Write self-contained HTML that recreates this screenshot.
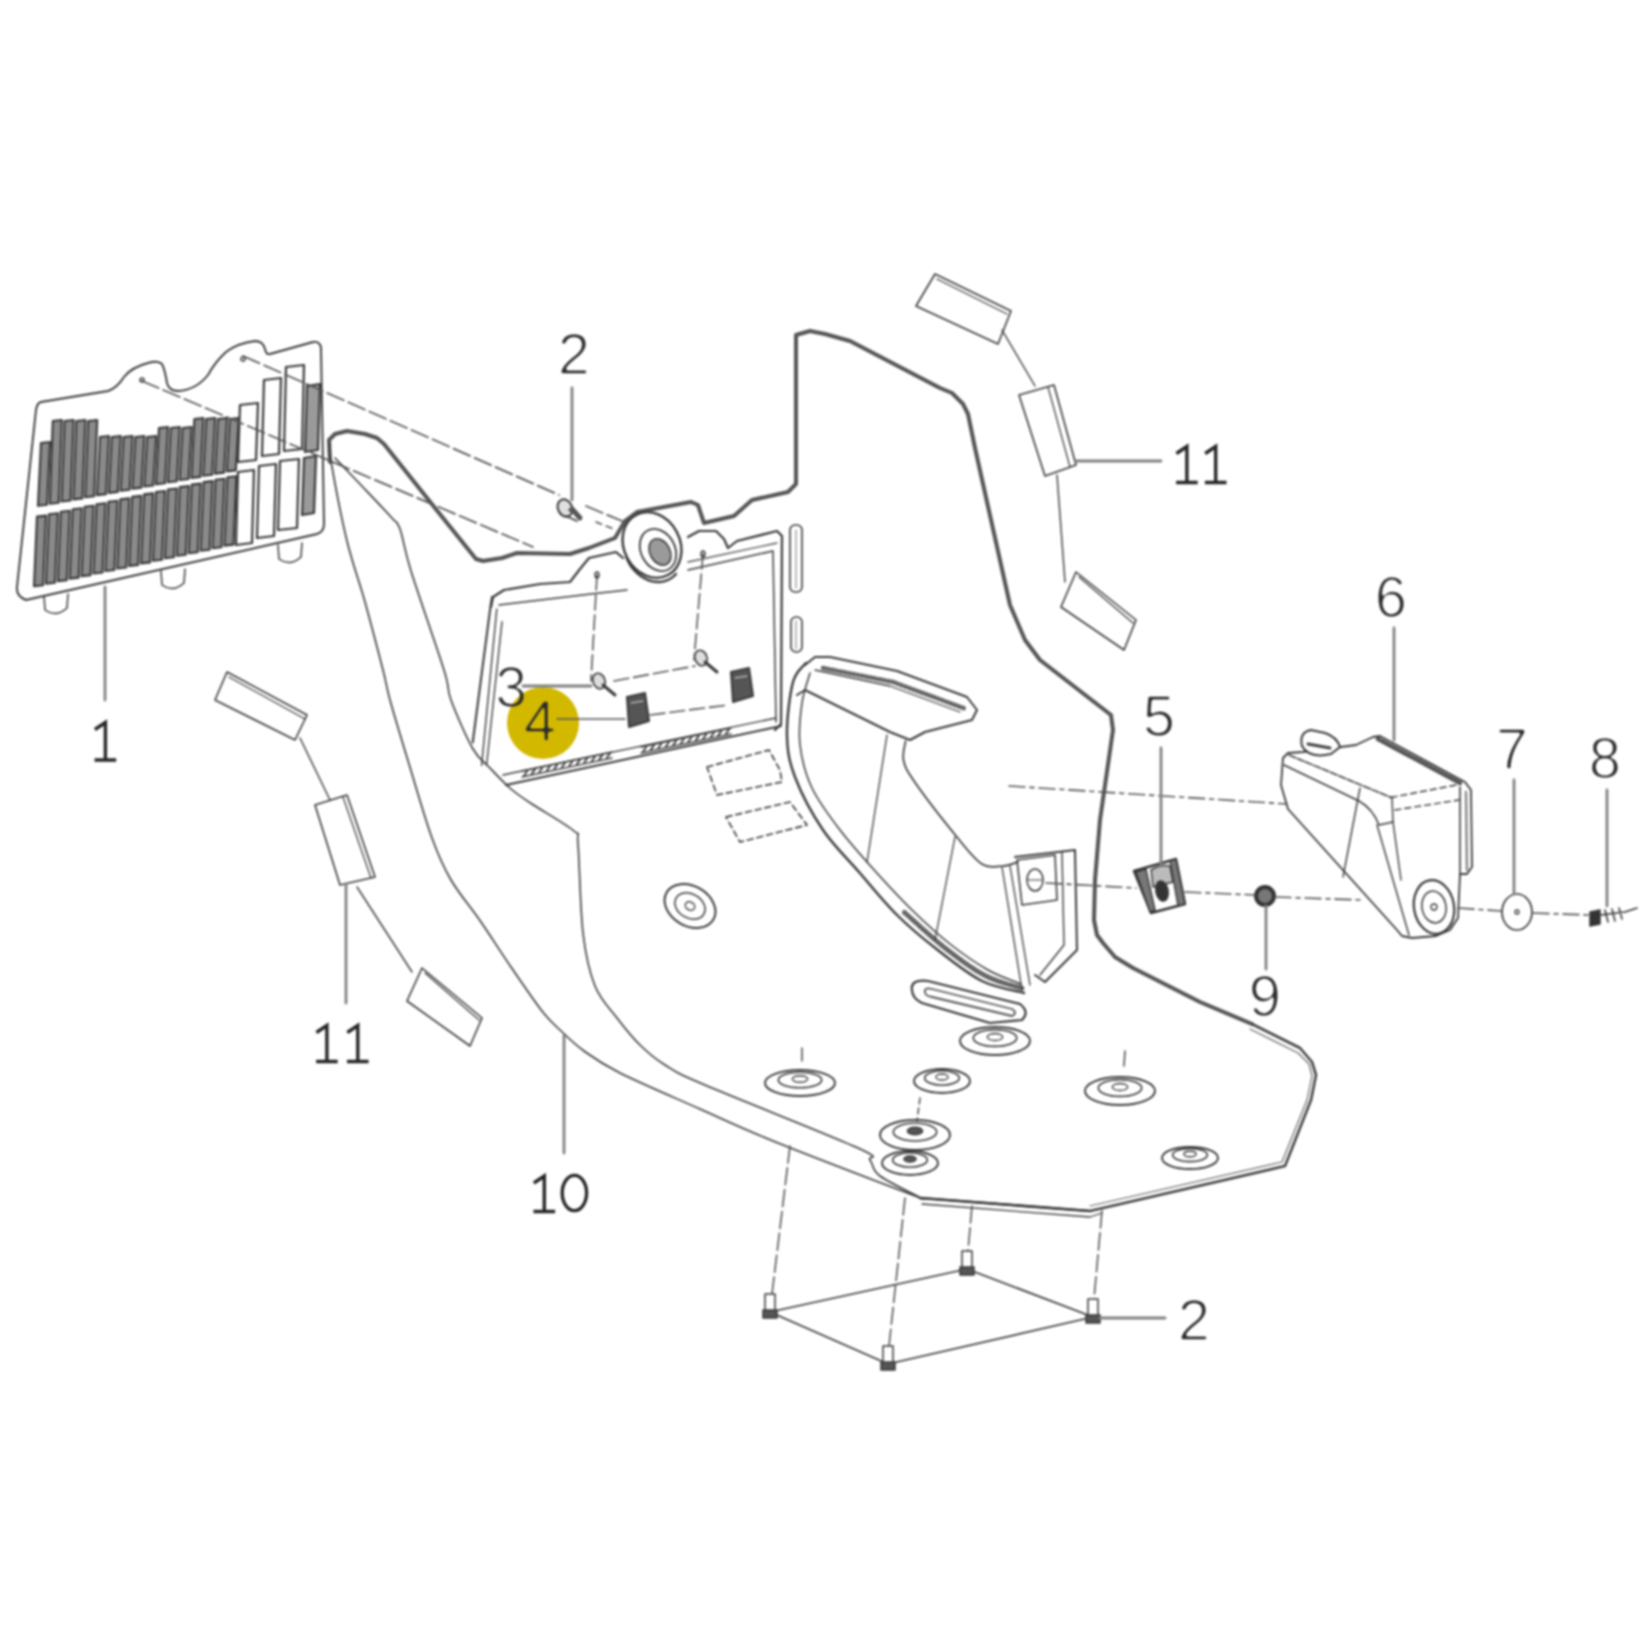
<!DOCTYPE html>
<html><head><meta charset="utf-8"><style>
html,body{margin:0;padding:0;background:#ffffff;width:1652px;height:1652px;overflow:hidden}
svg{display:block;filter:blur(1px)}
</style></head><body>
<svg width="1652" height="1652" viewBox="0 0 1652 1652">
<defs><filter id="thin" x="-20%" y="-20%" width="140%" height="140%"><feGaussianBlur stdDeviation="0.9"/><feComponentTransfer><feFuncA type="linear" slope="3" intercept="-1.75"/></feComponentTransfer></filter></defs>
<rect width="1652" height="1652" fill="#ffffff"/>
<path d="M41,402 Q37,403 36,410 L17,587 Q16,596 26,600 L317,534 Q324,532 324,524 L321,348 Q320,341 313,342 L270,354 Q266,355 265,349 Q263,341 255,341 Q238,343 226,352 Q215,362 208,375 Q196,390 178,391 Q169,391 167,383 Q165,370 162,364 Q158,360 148,363 Q132,367 124,377 Q117,388 108,391 Z" fill="none" stroke="#3a3a3a" stroke-width="1.9" stroke-linejoin="round" stroke-linecap="round"/>
<path d="M44,596 L45,610 Q56,618 67,608 L68,594" fill="none" stroke="#3a3a3a" stroke-width="1.5" stroke-linejoin="round" stroke-linecap="round"/>
<path d="M161,571 L162,585 Q173,593 184,583 L185,569" fill="none" stroke="#3a3a3a" stroke-width="1.5" stroke-linejoin="round" stroke-linecap="round"/>
<path d="M278,545 L279,559 Q290,567 301,557 L302,543" fill="none" stroke="#3a3a3a" stroke-width="1.5" stroke-linejoin="round" stroke-linecap="round"/>
<path d="M41.0,443.0 L50.0,442.0 L47.0,504.8 L38.0,505.8 Z" fill="#8a8a8a" stroke="#3a3a3a" stroke-width="2.1" stroke-linejoin="round" stroke-linecap="round" />
<path d="M52.8,421.0 L61.8,420.0 L58.8,502.7 L49.8,503.7 Z" fill="#8a8a8a" stroke="#3a3a3a" stroke-width="2.1" stroke-linejoin="round" stroke-linecap="round" />
<path d="M64.6,421.0 L73.6,420.0 L70.6,500.5 L61.6,501.5 Z" fill="#8a8a8a" stroke="#3a3a3a" stroke-width="2.1" stroke-linejoin="round" stroke-linecap="round" />
<path d="M76.4,421.0 L85.4,420.0 L82.4,498.4 L73.4,499.4 Z" fill="#8a8a8a" stroke="#3a3a3a" stroke-width="2.1" stroke-linejoin="round" stroke-linecap="round" />
<path d="M88.2,421.0 L97.2,420.0 L94.2,496.2 L85.2,497.2 Z" fill="#8a8a8a" stroke="#3a3a3a" stroke-width="2.1" stroke-linejoin="round" stroke-linecap="round" />
<path d="M100.0,437.0 L109.0,436.0 L106.0,494.1 L97.0,495.1 Z" fill="#8a8a8a" stroke="#3a3a3a" stroke-width="2.1" stroke-linejoin="round" stroke-linecap="round" />
<path d="M111.8,437.0 L120.8,436.0 L117.8,491.9 L108.8,492.9 Z" fill="#8a8a8a" stroke="#3a3a3a" stroke-width="2.1" stroke-linejoin="round" stroke-linecap="round" />
<path d="M123.6,437.0 L132.6,436.0 L129.6,489.8 L120.6,490.8 Z" fill="#8a8a8a" stroke="#3a3a3a" stroke-width="2.1" stroke-linejoin="round" stroke-linecap="round" />
<path d="M135.4,437.0 L144.4,436.0 L141.4,487.6 L132.4,488.6 Z" fill="#8a8a8a" stroke="#3a3a3a" stroke-width="2.1" stroke-linejoin="round" stroke-linecap="round" />
<path d="M147.2,437.0 L156.2,436.0 L153.2,485.5 L144.2,486.5 Z" fill="#8a8a8a" stroke="#3a3a3a" stroke-width="2.1" stroke-linejoin="round" stroke-linecap="round" />
<path d="M159.0,428.0 L168.0,427.0 L165.0,483.3 L156.0,484.3 Z" fill="#8a8a8a" stroke="#3a3a3a" stroke-width="2.1" stroke-linejoin="round" stroke-linecap="round" />
<path d="M170.8,428.0 L179.8,427.0 L176.8,481.2 L167.8,482.2 Z" fill="#8a8a8a" stroke="#3a3a3a" stroke-width="2.1" stroke-linejoin="round" stroke-linecap="round" />
<path d="M182.6,428.0 L191.6,427.0 L188.6,479.0 L179.6,480.0 Z" fill="#8a8a8a" stroke="#3a3a3a" stroke-width="2.1" stroke-linejoin="round" stroke-linecap="round" />
<path d="M194.4,419.0 L203.4,418.0 L200.4,476.9 L191.4,477.9 Z" fill="#8a8a8a" stroke="#3a3a3a" stroke-width="2.1" stroke-linejoin="round" stroke-linecap="round" />
<path d="M206.2,419.0 L215.2,418.0 L212.2,474.7 L203.2,475.7 Z" fill="#8a8a8a" stroke="#3a3a3a" stroke-width="2.1" stroke-linejoin="round" stroke-linecap="round" />
<path d="M218.0,419.0 L227.0,418.0 L224.0,472.6 L215.0,473.6 Z" fill="#8a8a8a" stroke="#3a3a3a" stroke-width="2.1" stroke-linejoin="round" stroke-linecap="round" />
<path d="M229.8,419.0 L238.8,418.0 L235.8,470.4 L226.8,471.4 Z" fill="#8a8a8a" stroke="#3a3a3a" stroke-width="2.1" stroke-linejoin="round" stroke-linecap="round" />
<path d="M240.0,405.0 L258.0,403.0 L256.0,460.0 L238.0,462.0 Z" fill="#ffffff" stroke="#3a3a3a" stroke-width="2.2" stroke-linejoin="round" stroke-linecap="round" />
<path d="M264.0,380.0 L281.0,378.0 L279.0,454.0 L262.0,456.0 Z" fill="#ffffff" stroke="#3a3a3a" stroke-width="2.2" stroke-linejoin="round" stroke-linecap="round" />
<path d="M286.0,367.0 L304.0,365.0 L302.0,449.0 L284.0,451.0 Z" fill="#ffffff" stroke="#3a3a3a" stroke-width="2.2" stroke-linejoin="round" stroke-linecap="round" />
<path d="M307.0,386.0 L320.0,384.0 L318.0,450.0 L305.0,452.0 Z" fill="#9a9a9a" stroke="#3a3a3a" stroke-width="2.2" stroke-linejoin="round" stroke-linecap="round" />
<path d="M37.0,516.6 L46.0,515.6 L43.0,585.2 L34.0,586.2 Z" fill="#8a8a8a" stroke="#3a3a3a" stroke-width="2.1" stroke-linejoin="round" stroke-linecap="round" />
<path d="M48.9,514.2 L57.9,513.2 L54.9,582.7 L45.9,583.7 Z" fill="#8a8a8a" stroke="#3a3a3a" stroke-width="2.1" stroke-linejoin="round" stroke-linecap="round" />
<path d="M60.8,511.7 L69.8,510.7 L66.8,580.1 L57.8,581.1 Z" fill="#8a8a8a" stroke="#3a3a3a" stroke-width="2.1" stroke-linejoin="round" stroke-linecap="round" />
<path d="M72.7,509.2 L81.7,508.2 L78.7,577.6 L69.7,578.6 Z" fill="#8a8a8a" stroke="#3a3a3a" stroke-width="2.1" stroke-linejoin="round" stroke-linecap="round" />
<path d="M84.6,506.8 L93.6,505.8 L90.6,575.1 L81.6,576.1 Z" fill="#8a8a8a" stroke="#3a3a3a" stroke-width="2.1" stroke-linejoin="round" stroke-linecap="round" />
<path d="M96.5,504.3 L105.5,503.3 L102.5,572.5 L93.5,573.5 Z" fill="#8a8a8a" stroke="#3a3a3a" stroke-width="2.1" stroke-linejoin="round" stroke-linecap="round" />
<path d="M108.4,501.8 L117.4,500.8 L114.4,570.0 L105.4,571.0 Z" fill="#8a8a8a" stroke="#3a3a3a" stroke-width="2.1" stroke-linejoin="round" stroke-linecap="round" />
<path d="M120.3,499.4 L129.3,498.4 L126.3,567.5 L117.3,568.5 Z" fill="#8a8a8a" stroke="#3a3a3a" stroke-width="2.1" stroke-linejoin="round" stroke-linecap="round" />
<path d="M132.2,496.9 L141.2,495.9 L138.2,564.9 L129.2,565.9 Z" fill="#8a8a8a" stroke="#3a3a3a" stroke-width="2.1" stroke-linejoin="round" stroke-linecap="round" />
<path d="M144.1,494.4 L153.1,493.4 L150.1,562.4 L141.1,563.4 Z" fill="#8a8a8a" stroke="#3a3a3a" stroke-width="2.1" stroke-linejoin="round" stroke-linecap="round" />
<path d="M156.0,492.0 L165.0,491.0 L162.0,559.8 L153.0,560.8 Z" fill="#8a8a8a" stroke="#3a3a3a" stroke-width="2.1" stroke-linejoin="round" stroke-linecap="round" />
<path d="M167.9,489.5 L176.9,488.5 L173.9,557.3 L164.9,558.3 Z" fill="#8a8a8a" stroke="#3a3a3a" stroke-width="2.1" stroke-linejoin="round" stroke-linecap="round" />
<path d="M179.8,487.1 L188.8,486.1 L185.8,554.8 L176.8,555.8 Z" fill="#8a8a8a" stroke="#3a3a3a" stroke-width="2.1" stroke-linejoin="round" stroke-linecap="round" />
<path d="M191.7,484.6 L200.7,483.6 L197.7,552.2 L188.7,553.2 Z" fill="#8a8a8a" stroke="#3a3a3a" stroke-width="2.1" stroke-linejoin="round" stroke-linecap="round" />
<path d="M203.6,482.1 L212.6,481.1 L209.6,549.7 L200.6,550.7 Z" fill="#8a8a8a" stroke="#3a3a3a" stroke-width="2.1" stroke-linejoin="round" stroke-linecap="round" />
<path d="M215.5,479.7 L224.5,478.7 L221.5,547.2 L212.5,548.2 Z" fill="#8a8a8a" stroke="#3a3a3a" stroke-width="2.1" stroke-linejoin="round" stroke-linecap="round" />
<path d="M227.4,477.2 L236.4,476.2 L233.4,544.6 L224.4,545.6 Z" fill="#8a8a8a" stroke="#3a3a3a" stroke-width="2.1" stroke-linejoin="round" stroke-linecap="round" />
<path d="M238.0,472.0 L254.0,470.0 L252.0,543.0 L236.0,545.0 Z" fill="#ffffff" stroke="#3a3a3a" stroke-width="2.2" stroke-linejoin="round" stroke-linecap="round" />
<path d="M259.0,466.0 L276.0,464.0 L274.0,536.0 L257.0,538.0 Z" fill="#ffffff" stroke="#3a3a3a" stroke-width="2.2" stroke-linejoin="round" stroke-linecap="round" />
<path d="M280.0,461.0 L299.0,459.0 L297.0,528.0 L278.0,530.0 Z" fill="#ffffff" stroke="#3a3a3a" stroke-width="2.2" stroke-linejoin="round" stroke-linecap="round" />
<path d="M304.0,458.0 L316.0,456.0 L314.0,513.0 L302.0,515.0 Z" fill="#9a9a9a" stroke="#3a3a3a" stroke-width="2.2" stroke-linejoin="round" stroke-linecap="round" />
<ellipse cx="142" cy="380" rx="2" ry="2" fill="none" stroke="#3a3a3a" stroke-width="1.5"/>
<ellipse cx="243" cy="359" rx="2" ry="2" fill="none" stroke="#3a3a3a" stroke-width="1.5"/>
<path d="M105.0,587.0 L105.0,700.0" fill="none" stroke="#808080" stroke-width="2.8" stroke-linejoin="round" stroke-linecap="round" />
<path d="M94.9,729.5 L105.4,722.5 L105.4,760 M94.60000000000001,760 L116.2,760" fill="none" stroke="#262626" stroke-width="3.4" stroke-linejoin="miter"/>
<path d="M243.0,356.0 L559.0,495.0" fill="none" stroke="#555555" stroke-width="1.7" stroke-dasharray="18 5" stroke-linejoin="round" stroke-linecap="round" />
<path d="M586.0,506.0 L622.0,521.0" fill="none" stroke="#555555" stroke-width="1.7" stroke-dasharray="18 5" stroke-linejoin="round" stroke-linecap="round" />
<path d="M596.0,522.0 L614.0,529.0" fill="none" stroke="#555555" stroke-width="1.6" stroke-dasharray="6 5" stroke-linejoin="round" stroke-linecap="round" />
<path d="M142.0,381.0 L533.0,547.0" fill="none" stroke="#555555" stroke-width="1.7" stroke-dasharray="18 5" stroke-linejoin="round" stroke-linecap="round" />
<ellipse cx="565" cy="508" rx="7" ry="9" fill="#e0e0e0" stroke="#3a3a3a" stroke-width="2.0" transform="rotate(-25 565 508)"/>
<path d="M569,510 L580,516 M566,516 L577,521" fill="none" stroke="#3a3a3a" stroke-width="1.8" stroke-linejoin="round" stroke-linecap="round"/>
<path d="M572.0,509.0 L580.0,518.0" fill="none" stroke="#555555" stroke-width="5" stroke-linejoin="round" stroke-linecap="round" />
<path d="M572.0,388.0 L572.0,500.0" fill="none" stroke="#808080" stroke-width="2.8" stroke-linejoin="round" stroke-linecap="round" />
<text x="574" y="374" font-size="58" fill="#2a2a2a" text-anchor="middle" font-family="&apos;Liberation Sans&apos;, sans-serif" filter="url(#thin)">2</text>
<path d="M330.0,462.0 L329.0,440.0 L335.0,434.0 L347.0,431.0 L365.0,434.0 L377.0,438.0 L384.0,444.0 L435.0,508.0 L476.0,559.0 L483.0,561.0 L502.0,558.0 L517.0,553.0 L570.0,554.0 L589.0,548.0 L615.0,538.0 L625.0,521.0 L637.0,512.0 L691.0,502.0 L698.0,505.0 L704.0,523.0 L734.0,516.0 L752.0,500.0 L788.0,492.0 L796.0,484.0 L796.0,335.0 L810.0,331.0 L825.0,334.0 L850.0,341.0 L940.0,388.0 L952.0,393.0 L963.0,404.0 L968.0,414.0 L975.0,448.0 L1010.0,605.0 L1025.0,640.0 L1040.0,660.0 L1111.0,715.0 L1113.0,730.0 L1100.0,820.0 L1095.0,880.0 L1094.0,920.0 L1097.0,935.0 L1103.0,943.0 L1115.0,957.0 L1133.0,968.0 L1200.0,1002.0 L1252.0,1024.0" fill="none" stroke="#555555" stroke-width="4.0" stroke-linejoin="round" stroke-linecap="round" />
<path d="M1252.0,1024.0 L1300.0,1048.0 L1312.0,1062.0 L1316.0,1075.0 L1311.0,1100.0 L1285.0,1166.0 L1090.0,1211.0 L920.0,1198.0" fill="none" stroke="#444444" stroke-width="2.6" stroke-linejoin="round" stroke-linecap="round" />
<path d="M1250.0,1029.0 L1298.0,1053.0 L1309.0,1064.0 L1312.0,1076.0 L1307.0,1100.0 L1282.0,1162.0 L1090.0,1206.0" fill="none" stroke="#666666" stroke-width="1.2" stroke-linejoin="round" stroke-linecap="round" />
<path d="M330.0,443.0 C330.2,446.0 328.2,444.7 331.0,461.0 C333.8,477.3 341.3,517.5 347.0,541.0 C352.7,564.5 359.0,580.5 365.0,602.0 C371.0,623.5 378.8,653.7 383.0,670.0 C387.2,686.3 385.7,684.3 390.0,700.0 C394.3,715.7 402.0,741.0 409.0,764.0 C416.0,787.0 425.0,818.7 432.0,838.0 C439.0,857.3 442.8,866.0 451.0,880.0 C459.2,894.0 471.0,907.5 481.0,922.0 C491.0,936.5 500.8,952.2 511.0,967.0 C521.2,981.8 533.8,1000.5 542.0,1011.0 C550.2,1021.5 553.0,1023.3 560.0,1030.0 C567.0,1036.7 574.0,1043.8 584.0,1051.0 C594.0,1058.2 600.7,1063.3 620.0,1073.0 C639.3,1082.7 673.7,1097.3 700.0,1109.0 C726.3,1120.7 740.8,1128.0 778.0,1143.0 C815.2,1158.0 898.8,1189.7 923.0,1199.0" fill="none" stroke="#3a3a3a" stroke-width="1.6" stroke-linejoin="round" stroke-linecap="round"/>
<path d="M335.0,458.0 C339.0,462.2 349.7,473.2 359.0,483.0 C368.3,492.8 384.2,509.3 391.0,517.0 C397.8,524.7 396.7,520.0 400.0,529.0 C403.3,538.0 403.7,547.5 411.0,571.0 C418.3,594.5 437.3,648.5 444.0,670.0 C450.7,691.5 446.2,686.8 451.0,700.0 C455.8,713.2 466.5,737.7 473.0,749.0 C479.5,760.3 483.7,761.3 490.0,768.0 C496.3,774.7 504.0,783.0 511.0,789.0 C518.0,795.0 521.5,797.0 532.0,804.0 C542.5,811.0 566.3,824.3 574.0,831.0 C581.7,837.7 576.5,827.0 578.0,844.0 C579.5,861.0 580.2,909.3 583.0,933.0 C585.8,956.7 589.3,971.8 595.0,986.0 C600.7,1000.2 609.5,1008.2 617.0,1018.0 C624.5,1027.8 632.0,1037.2 640.0,1045.0 C648.0,1052.8 654.2,1058.3 665.0,1065.0 C675.8,1071.7 672.8,1071.2 705.0,1085.0 C737.2,1098.8 830.5,1135.5 858.0,1148.0 C885.5,1160.5 866.3,1155.3 870.0,1160.0 C873.7,1164.7 871.2,1169.5 880.0,1176.0 C888.8,1182.5 915.8,1195.2 923.0,1199.0" fill="none" stroke="#3a3a3a" stroke-width="1.6" stroke-linejoin="round" stroke-linecap="round"/>
<path d="M920.0,1198.0 L1090.0,1211.0" fill="none" stroke="#3a3a3a" stroke-width="2.2" stroke-linejoin="round" stroke-linecap="round" />
<path d="M922.0,1204.0 L1090.0,1217.0 L1102.0,1213.0" fill="none" stroke="#3a3a3a" stroke-width="1.3" stroke-linejoin="round" stroke-linecap="round" />
<path d="M491.0,607.0 L493.0,597.0 L504.0,590.0 L540.0,584.0 L570.0,582.0 L580.0,569.0 L589.0,558.0 L616.0,552.0 L623.0,558.0" fill="none" stroke="#3a3a3a" stroke-width="2.2" stroke-linejoin="round" stroke-linecap="round" />
<path d="M688.0,537.0 L699.0,531.0 L716.0,531.0 L724.0,539.0 L728.0,548.0 L737.0,541.0 L777.0,531.0 L782.0,536.0 L781.0,724.0 L775.0,730.0" fill="none" stroke="#3a3a3a" stroke-width="2.2" stroke-linejoin="round" stroke-linecap="round" />
<path d="M499.0,605.0 L591.0,594.0 L627.0,590.0" fill="none" stroke="#3a3a3a" stroke-width="1.5" stroke-linejoin="round" stroke-linecap="round" />
<path d="M688.0,570.0 L773.0,551.0 L776.0,722.0" fill="none" stroke="#3a3a3a" stroke-width="1.5" stroke-linejoin="round" stroke-linecap="round" />
<path d="M688.0,562.0 L777.0,543.0" fill="none" stroke="#555555" stroke-width="1.3" stroke-linejoin="round" stroke-linecap="round" />
<path d="M492.0,597.0 L490.5,606.5 L472.7,742.5" fill="none" stroke="#3a3a3a" stroke-width="2.0" stroke-linejoin="round" stroke-linecap="round" />
<path d="M496.8,609.0 L481.6,765.4" fill="none" stroke="#3a3a3a" stroke-width="1.4" stroke-linejoin="round" stroke-linecap="round" />
<path d="M502.0,621.8 L486.7,764.0" fill="none" stroke="#3a3a3a" stroke-width="1.4" stroke-linejoin="round" stroke-linecap="round" />
<path d="M506.0,785.0 L781.0,726.0" fill="none" stroke="#3a3a3a" stroke-width="2.0" stroke-linejoin="round" stroke-linecap="round" />
<path d="M503.0,775.0 L776.0,718.0" fill="none" stroke="#3a3a3a" stroke-width="1.4" stroke-linejoin="round" stroke-linecap="round" />
<path d="M522.0,771.0 L612.0,752.0" fill="none" stroke="#3a3a3a" stroke-width="1.3" stroke-linejoin="round" stroke-linecap="round" />
<path d="M522.0,777.0 L612.0,758.0" fill="none" stroke="#3a3a3a" stroke-width="1.3" stroke-linejoin="round" stroke-linecap="round" />
<path d="M524.2,775.2 L527.2,771.2" fill="none" stroke="#3a3a3a" stroke-width="1.8" stroke-linejoin="round" stroke-linecap="round" />
<path d="M531.8,773.6 L534.8,769.6" fill="none" stroke="#3a3a3a" stroke-width="1.8" stroke-linejoin="round" stroke-linecap="round" />
<path d="M539.2,772.0 L542.2,768.0" fill="none" stroke="#3a3a3a" stroke-width="1.8" stroke-linejoin="round" stroke-linecap="round" />
<path d="M546.8,770.5 L549.8,766.5" fill="none" stroke="#3a3a3a" stroke-width="1.8" stroke-linejoin="round" stroke-linecap="round" />
<path d="M554.2,768.9 L557.2,764.9" fill="none" stroke="#3a3a3a" stroke-width="1.8" stroke-linejoin="round" stroke-linecap="round" />
<path d="M561.8,767.3 L564.8,763.3" fill="none" stroke="#3a3a3a" stroke-width="1.8" stroke-linejoin="round" stroke-linecap="round" />
<path d="M569.2,765.7 L572.2,761.7" fill="none" stroke="#3a3a3a" stroke-width="1.8" stroke-linejoin="round" stroke-linecap="round" />
<path d="M576.8,764.1 L579.8,760.1" fill="none" stroke="#3a3a3a" stroke-width="1.8" stroke-linejoin="round" stroke-linecap="round" />
<path d="M584.2,762.5 L587.2,758.5" fill="none" stroke="#3a3a3a" stroke-width="1.8" stroke-linejoin="round" stroke-linecap="round" />
<path d="M591.8,761.0 L594.8,757.0" fill="none" stroke="#3a3a3a" stroke-width="1.8" stroke-linejoin="round" stroke-linecap="round" />
<path d="M599.2,759.4 L602.2,755.4" fill="none" stroke="#3a3a3a" stroke-width="1.8" stroke-linejoin="round" stroke-linecap="round" />
<path d="M606.8,757.8 L609.8,753.8" fill="none" stroke="#3a3a3a" stroke-width="1.8" stroke-linejoin="round" stroke-linecap="round" />
<path d="M641.0,747.0 L731.0,728.0" fill="none" stroke="#3a3a3a" stroke-width="1.3" stroke-linejoin="round" stroke-linecap="round" />
<path d="M641.0,753.0 L731.0,734.0" fill="none" stroke="#3a3a3a" stroke-width="1.3" stroke-linejoin="round" stroke-linecap="round" />
<path d="M643.2,751.2 L646.2,747.2" fill="none" stroke="#3a3a3a" stroke-width="1.8" stroke-linejoin="round" stroke-linecap="round" />
<path d="M650.8,749.6 L653.8,745.6" fill="none" stroke="#3a3a3a" stroke-width="1.8" stroke-linejoin="round" stroke-linecap="round" />
<path d="M658.2,748.0 L661.2,744.0" fill="none" stroke="#3a3a3a" stroke-width="1.8" stroke-linejoin="round" stroke-linecap="round" />
<path d="M665.8,746.5 L668.8,742.5" fill="none" stroke="#3a3a3a" stroke-width="1.8" stroke-linejoin="round" stroke-linecap="round" />
<path d="M673.2,744.9 L676.2,740.9" fill="none" stroke="#3a3a3a" stroke-width="1.8" stroke-linejoin="round" stroke-linecap="round" />
<path d="M680.8,743.3 L683.8,739.3" fill="none" stroke="#3a3a3a" stroke-width="1.8" stroke-linejoin="round" stroke-linecap="round" />
<path d="M688.2,741.7 L691.2,737.7" fill="none" stroke="#3a3a3a" stroke-width="1.8" stroke-linejoin="round" stroke-linecap="round" />
<path d="M695.8,740.1 L698.8,736.1" fill="none" stroke="#3a3a3a" stroke-width="1.8" stroke-linejoin="round" stroke-linecap="round" />
<path d="M703.2,738.5 L706.2,734.5" fill="none" stroke="#3a3a3a" stroke-width="1.8" stroke-linejoin="round" stroke-linecap="round" />
<path d="M710.8,737.0 L713.8,733.0" fill="none" stroke="#3a3a3a" stroke-width="1.8" stroke-linejoin="round" stroke-linecap="round" />
<path d="M718.2,735.4 L721.2,731.4" fill="none" stroke="#3a3a3a" stroke-width="1.8" stroke-linejoin="round" stroke-linecap="round" />
<path d="M725.8,733.8 L728.8,729.8" fill="none" stroke="#3a3a3a" stroke-width="1.8" stroke-linejoin="round" stroke-linecap="round" />
<path d="M626,556 A28,34 -28 0 0 676,574" fill="none" stroke="#3a3a3a" stroke-width="2.4" stroke-linejoin="round" stroke-linecap="round"/>
<ellipse cx="652" cy="545" rx="28" ry="34" fill="#ffffff" stroke="#3a3a3a" stroke-width="2.4" transform="rotate(-28 652 545)"/>
<ellipse cx="658" cy="550" rx="17" ry="22" fill="none" stroke="#3a3a3a" stroke-width="1.8" transform="rotate(-28 658 550)"/>
<ellipse cx="660" cy="552" rx="10" ry="14" fill="#9a9a9a" stroke="#3a3a3a" stroke-width="1.6" transform="rotate(-28 660 552)"/>
<rect x="790" y="525" width="12" height="67" rx="5" fill="none" stroke="#3a3a3a" stroke-width="1.6"/>
<path d="M796.0,530.0 L796.0,588.0" fill="none" stroke="#777777" stroke-width="1.0" stroke-linejoin="round" stroke-linecap="round" />
<rect x="791" y="617" width="11" height="35" rx="5" fill="none" stroke="#3a3a3a" stroke-width="1.6"/>
<path d="M796.0,621.0 L796.0,649.0" fill="none" stroke="#777777" stroke-width="1.0" stroke-linejoin="round" stroke-linecap="round" />
<ellipse cx="599" cy="681" rx="6" ry="8" fill="#dddddd" stroke="#3a3a3a" stroke-width="1.6" transform="rotate(-20 599 681)"/>
<path d="M603.0,685.0 L615.0,695.0" fill="none" stroke="#3a3a3a" stroke-width="3.0" stroke-linejoin="round" stroke-linecap="round" />
<ellipse cx="701" cy="658" rx="6" ry="8" fill="#dddddd" stroke="#3a3a3a" stroke-width="1.6" transform="rotate(-20 701 658)"/>
<path d="M705.0,662.0 L717.0,672.0" fill="none" stroke="#3a3a3a" stroke-width="3.0" stroke-linejoin="round" stroke-linecap="round" />
<path d="M627,697 L645,693 L649,721 L629,727 Z" fill="#555555" stroke="#3a3a3a" stroke-width="2" stroke-linejoin="round" stroke-linecap="round"/>
<path d="M631,703 L643,701" fill="none" stroke="#dddddd" stroke-width="1.2" stroke-linejoin="round" stroke-linecap="round"/>
<path d="M731,672 L749,668 L753,696 L733,702 Z" fill="#555555" stroke="#3a3a3a" stroke-width="2" stroke-linejoin="round" stroke-linecap="round"/>
<path d="M735,678 L747,676" fill="none" stroke="#dddddd" stroke-width="1.2" stroke-linejoin="round" stroke-linecap="round"/>
<path d="M597.0,575.0 L591.0,681.0" fill="none" stroke="#555555" stroke-width="1.6" stroke-dasharray="15 5" stroke-linejoin="round" stroke-linecap="round" />
<path d="M703.0,554.0 L694.0,660.0" fill="none" stroke="#555555" stroke-width="1.6" stroke-dasharray="15 5" stroke-linejoin="round" stroke-linecap="round" />
<path d="M614.0,681.0 L695.0,666.0" fill="none" stroke="#555555" stroke-width="1.6" stroke-dasharray="15 5" stroke-linejoin="round" stroke-linecap="round" />
<path d="M650.0,715.0 L728.0,705.0" fill="none" stroke="#555555" stroke-width="1.6" stroke-dasharray="15 5" stroke-linejoin="round" stroke-linecap="round" />
<ellipse cx="597" cy="575" rx="2" ry="3" fill="none" stroke="#3a3a3a" stroke-width="1.4"/>
<ellipse cx="703" cy="554" rx="2" ry="3" fill="none" stroke="#3a3a3a" stroke-width="1.4"/>
<circle cx="543" cy="723" r="36" fill="#d3b800"/>
<path d="M523.0,686.0 L591.0,686.0" fill="none" stroke="#808080" stroke-width="2.8" stroke-linejoin="round" stroke-linecap="round" />
<path d="M557.0,719.0 L625.0,719.0" fill="none" stroke="#555555" stroke-width="1.4" stroke-linejoin="round" stroke-linecap="round" />
<text x="511" y="707" font-size="57" fill="#2a2a2a" text-anchor="middle" font-family="&apos;Liberation Sans&apos;, sans-serif" filter="url(#thin)">3</text>
<text x="540" y="741" font-size="58" fill="#2a2a2a" text-anchor="middle" font-family="&apos;Liberation Sans&apos;, sans-serif" filter="url(#thin)">4</text>
<path d="M707.0,767.0 L769.0,750.0 L780.0,770.0 L782.0,782.0 L717.0,795.0 Z" fill="none" stroke="#3a3a3a" stroke-width="1.6" stroke-dasharray="6 4" stroke-linejoin="round" stroke-linecap="round" />
<path d="M726.0,817.0 L790.0,802.0 L807.0,825.0 L740.0,842.0 Z" fill="none" stroke="#3a3a3a" stroke-width="1.6" stroke-dasharray="6 4" stroke-linejoin="round" stroke-linecap="round" />
<ellipse cx="690" cy="906" rx="27" ry="20" fill="none" stroke="#3a3a3a" stroke-width="2.0" transform="rotate(30 690 906)"/>
<ellipse cx="690" cy="906" rx="16" ry="12" fill="none" stroke="#3a3a3a" stroke-width="1.5" transform="rotate(30 690 906)"/>
<ellipse cx="690" cy="906" rx="5" ry="4" fill="none" stroke="#3a3a3a" stroke-width="1.4" transform="rotate(30 690 906)"/>
<path d="M805.0,665.0 L815.0,657.0 L830.0,657.0 L897.0,671.0 L967.0,697.0 L977.0,710.0 L972.0,720.0 L925.0,732.0 L910.0,740.0 L890.0,732.0 L805.0,690.0 L797.0,695.0" fill="none" stroke="#3a3a3a" stroke-width="2.0" stroke-linejoin="round" stroke-linecap="round" />
<path d="M815.0,670.0 L890.0,686.0 L960.0,712.0" fill="none" stroke="#3a3a3a" stroke-width="1.3" stroke-linejoin="round" stroke-linecap="round" />
<path d="M823.0,668.0 L893.0,682.0 L966.0,709.0" fill="none" stroke="#666666" stroke-width="4.5" stroke-dasharray="1.6 2.8" stroke-linejoin="round" stroke-linecap="round" />
<path d="M806.0,663.0 C803.8,666.2 796.2,670.0 793.0,682.0 C789.8,694.0 786.7,719.2 787.0,735.0 C787.3,750.8 789.0,761.2 795.0,777.0 C801.0,792.8 812.3,814.2 823.0,830.0 C833.7,845.8 846.7,857.8 859.0,872.0 C871.3,886.2 883.7,901.8 897.0,915.0 C910.3,928.2 924.8,940.0 939.0,951.0 C953.2,962.0 967.8,974.0 982.0,981.0 C996.2,988.0 1017.0,991.0 1024.0,993.0" fill="none" stroke="#3a3a3a" stroke-width="2.4" stroke-linejoin="round" stroke-linecap="round"/>
<path d="M810.0,673.0 C808.7,678.0 803.7,691.0 802.0,703.0 C800.3,715.0 798.3,730.8 800.0,745.0 C801.7,759.2 805.3,773.8 812.0,788.0 C818.7,802.2 829.3,816.0 840.0,830.0 C850.7,844.0 864.0,858.7 876.0,872.0 C888.0,885.3 899.7,898.0 912.0,910.0 C924.3,922.0 937.3,934.0 950.0,944.0 C962.7,954.0 976.2,963.3 988.0,970.0 C999.8,976.7 1015.5,981.7 1021.0,984.0" fill="none" stroke="#3a3a3a" stroke-width="1.5" stroke-linejoin="round" stroke-linecap="round"/>
<path d="M904.5,912.5 C911.2,918.3 931.1,937.0 944.5,947.5 C957.9,958.0 972.0,968.7 985.0,975.5 C998.0,982.3 1016.2,986.3 1022.5,988.5" fill="none" stroke="#666666" stroke-width="5" stroke-dasharray="1.5 2.5" stroke-linejoin="round" stroke-linecap="round"/>
<path d="M905.6,741.0 C905.2,744.2 902.1,753.3 903.5,760.0 C904.9,766.7 905.2,768.2 914.0,781.0 C922.8,793.8 945.2,822.7 956.5,836.5 C967.8,850.3 974.2,859.1 982.0,864.0 C989.8,868.9 997.0,866.3 1003.0,866.0 C1009.0,865.7 1015.5,862.7 1018.0,862.0" fill="none" stroke="#3a3a3a" stroke-width="1.7" stroke-linejoin="round" stroke-linecap="round"/>
<path d="M1015.0,857.0 L1075.0,850.0 L1077.0,950.0 L1045.0,982.0 L1035.0,975.0" fill="none" stroke="#3a3a3a" stroke-width="2.0" stroke-linejoin="round" stroke-linecap="round" />
<path d="M1062.0,852.0 L1064.0,945.0 L1040.0,975.0" fill="none" stroke="#3a3a3a" stroke-width="1.4" stroke-linejoin="round" stroke-linecap="round" />
<path d="M1017.0,860.0 L1055.0,855.0 L1057.0,900.0 L1022.0,905.0 Z" fill="none" stroke="#3a3a3a" stroke-width="1.6" stroke-linejoin="round" stroke-linecap="round" />
<ellipse cx="1035" cy="880" rx="8" ry="11" fill="none" stroke="#3a3a3a" stroke-width="1.5"/>
<path d="M1028.0,880.0 L1042.0,880.0" fill="none" stroke="#3a3a3a" stroke-width="1.2" stroke-linejoin="round" stroke-linecap="round" />
<path d="M887.0,735.0 L867.0,862.0" fill="none" stroke="#3a3a3a" stroke-width="1.3" stroke-linejoin="round" stroke-linecap="round" />
<path d="M955.0,837.0 L935.0,940.0" fill="none" stroke="#3a3a3a" stroke-width="1.3" stroke-linejoin="round" stroke-linecap="round" />
<path d="M1002.0,867.0 L1022.0,990.0" fill="none" stroke="#3a3a3a" stroke-width="1.3" stroke-linejoin="round" stroke-linecap="round" />
<path d="M1010.0,866.0 L1030.0,985.0" fill="none" stroke="#3a3a3a" stroke-width="1.3" stroke-linejoin="round" stroke-linecap="round" />
<path d="M912,990 Q910,979 928,981 L1020,1004 Q1030,1012 1022,1020 L990,1023 L922,1003 Q912,998 912,990 Z" fill="none" stroke="#3a3a3a" stroke-width="2.2" stroke-linejoin="round" stroke-linecap="round"/>
<path d="M925,992 Q924,987 932,989 L1012,1009 Q1018,1013 1012,1016 L932,997 Q925,996 925,992 Z" fill="none" stroke="#555555" stroke-width="1.8" stroke-linejoin="round" stroke-linecap="round"/>
<ellipse cx="800" cy="1083" rx="35" ry="13" fill="none" stroke="#3a3a3a" stroke-width="1.9"/>
<ellipse cx="800" cy="1080" rx="21.7" ry="7.8" fill="none" stroke="#3a3a3a" stroke-width="1.6"/>
<ellipse cx="800" cy="1079" rx="7.7" ry="3.25" fill="none" stroke="#3a3a3a" stroke-width="1.3"/>
<ellipse cx="942" cy="1081" rx="28" ry="12" fill="none" stroke="#3a3a3a" stroke-width="1.9"/>
<ellipse cx="942" cy="1078" rx="17.36" ry="7.199999999999999" fill="none" stroke="#3a3a3a" stroke-width="1.6"/>
<ellipse cx="942" cy="1077" rx="6.16" ry="3.0" fill="none" stroke="#3a3a3a" stroke-width="1.3"/>
<ellipse cx="1120" cy="1091" rx="35" ry="14" fill="none" stroke="#3a3a3a" stroke-width="1.9"/>
<ellipse cx="1120" cy="1088" rx="21.7" ry="8.4" fill="none" stroke="#3a3a3a" stroke-width="1.6"/>
<ellipse cx="1120" cy="1087" rx="7.7" ry="3.5" fill="none" stroke="#3a3a3a" stroke-width="1.3"/>
<ellipse cx="1190" cy="1158" rx="28" ry="11" fill="none" stroke="#3a3a3a" stroke-width="1.9"/>
<ellipse cx="1190" cy="1155" rx="17.36" ry="6.6" fill="none" stroke="#3a3a3a" stroke-width="1.6"/>
<ellipse cx="1190" cy="1154" rx="6.16" ry="2.75" fill="none" stroke="#3a3a3a" stroke-width="1.3"/>
<ellipse cx="995" cy="1041" rx="35" ry="14" fill="none" stroke="#3a3a3a" stroke-width="1.9"/>
<ellipse cx="995" cy="1038" rx="21.7" ry="8.4" fill="none" stroke="#3a3a3a" stroke-width="1.6"/>
<ellipse cx="995" cy="1037" rx="7.7" ry="3.5" fill="none" stroke="#3a3a3a" stroke-width="1.3"/>
<ellipse cx="915" cy="1135" rx="35" ry="15" fill="none" stroke="#3a3a3a" stroke-width="1.9"/>
<ellipse cx="915" cy="1132" rx="21.7" ry="9.0" fill="none" stroke="#3a3a3a" stroke-width="1.6"/>
<ellipse cx="915" cy="1131" rx="7.7" ry="3.75" fill="#555555" stroke="#3a3a3a" stroke-width="1.3"/>
<ellipse cx="910" cy="1163" rx="28" ry="12" fill="none" stroke="#3a3a3a" stroke-width="1.9"/>
<ellipse cx="910" cy="1160" rx="17.36" ry="7.199999999999999" fill="none" stroke="#3a3a3a" stroke-width="1.6"/>
<ellipse cx="910" cy="1159" rx="6.16" ry="3.0" fill="#555555" stroke="#3a3a3a" stroke-width="1.3"/>
<path d="M802.0,1048.0 L802.0,1061.0" fill="none" stroke="#3a3a3a" stroke-width="1.4" stroke-linejoin="round" stroke-linecap="round" />
<path d="M1125.0,1051.0 L1124.0,1066.0" fill="none" stroke="#3a3a3a" stroke-width="1.4" stroke-linejoin="round" stroke-linecap="round" />
<path d="M920.0,1098.0 L917.0,1121.0" fill="none" stroke="#3a3a3a" stroke-width="1.4" stroke-dasharray="6 4" stroke-linejoin="round" stroke-linecap="round" />
<path d="M770.0,1312.0 L967.0,1269.0 L1093.0,1317.0 L888.0,1364.0 Z" fill="none" stroke="#3a3a3a" stroke-width="1.7" stroke-linejoin="round" stroke-linecap="round" />
<path d="M765,1294 L775,1294 L775,1312 L765,1312 Z" fill="#ffffff" stroke="#3a3a3a" stroke-width="1.5" stroke-linejoin="round" stroke-linecap="round"/>
<path d="M763,1310 L777,1310 L777,1318 L763,1318 Z" fill="#555555" stroke="#3a3a3a" stroke-width="1.5" stroke-linejoin="round" stroke-linecap="round"/>
<path d="M962,1251 L972,1251 L972,1269 L962,1269 Z" fill="#ffffff" stroke="#3a3a3a" stroke-width="1.5" stroke-linejoin="round" stroke-linecap="round"/>
<path d="M960,1267 L974,1267 L974,1275 L960,1275 Z" fill="#555555" stroke="#3a3a3a" stroke-width="1.5" stroke-linejoin="round" stroke-linecap="round"/>
<path d="M1088,1299 L1098,1299 L1098,1317 L1088,1317 Z" fill="#ffffff" stroke="#3a3a3a" stroke-width="1.5" stroke-linejoin="round" stroke-linecap="round"/>
<path d="M1086,1315 L1100,1315 L1100,1323 L1086,1323 Z" fill="#555555" stroke="#3a3a3a" stroke-width="1.5" stroke-linejoin="round" stroke-linecap="round"/>
<path d="M883,1346 L893,1346 L893,1364 L883,1364 Z" fill="#ffffff" stroke="#3a3a3a" stroke-width="1.5" stroke-linejoin="round" stroke-linecap="round"/>
<path d="M881,1362 L895,1362 L895,1370 L881,1370 Z" fill="#555555" stroke="#3a3a3a" stroke-width="1.5" stroke-linejoin="round" stroke-linecap="round"/>
<path d="M790.0,1146.0 L772.0,1294.0" fill="none" stroke="#555555" stroke-width="1.6" stroke-dasharray="17 5" stroke-linejoin="round" stroke-linecap="round" />
<path d="M905.0,1198.0 L889.0,1346.0" fill="none" stroke="#555555" stroke-width="1.6" stroke-dasharray="17 5" stroke-linejoin="round" stroke-linecap="round" />
<path d="M972.0,1206.0 L968.0,1251.0" fill="none" stroke="#555555" stroke-width="1.6" stroke-dasharray="17 5" stroke-linejoin="round" stroke-linecap="round" />
<path d="M1102.0,1211.0 L1094.0,1299.0" fill="none" stroke="#555555" stroke-width="1.6" stroke-dasharray="17 5" stroke-linejoin="round" stroke-linecap="round" />
<path d="M1100.0,1318.0 L1165.0,1318.0" fill="none" stroke="#808080" stroke-width="2.8" stroke-linejoin="round" stroke-linecap="round" />
<text x="1194" y="1340" font-size="58" fill="#2a2a2a" text-anchor="middle" font-family="&apos;Liberation Sans&apos;, sans-serif" filter="url(#thin)">2</text>
<path d="M564.0,1036.0 L564.0,1153.0" fill="none" stroke="#808080" stroke-width="2.8" stroke-linejoin="round" stroke-linecap="round" />
<path d="M533.8,1183 L544.3,1176 L544.3,1211.5 M533.5,1211.5 L555.0999999999999,1211.5" fill="none" stroke="#262626" stroke-width="3.4" stroke-linejoin="miter"/>
<ellipse cx="574.4" cy="1193" rx="12.2" ry="17.6" fill="none" stroke="#262626" stroke-width="3.3"/>
<path d="M227.0,672.0 L307.0,715.0 L295.0,740.0 L215.0,700.0 Z" fill="none" stroke="#3a3a3a" stroke-width="1.6" stroke-linejoin="round" stroke-linecap="round" />
<path d="M229.0,677.0 L305.0,719.0" fill="none" stroke="#3a3a3a" stroke-width="1.2" stroke-linejoin="round" stroke-linecap="round" />
<path d="M315.0,805.0 L347.0,795.0 L375.0,877.0 L340.0,885.0 Z" fill="none" stroke="#3a3a3a" stroke-width="1.6" stroke-linejoin="round" stroke-linecap="round" />
<path d="M343.0,797.0 L371.0,878.0" fill="none" stroke="#3a3a3a" stroke-width="1.2" stroke-linejoin="round" stroke-linecap="round" />
<path d="M422.0,968.0 L482.0,1018.0 L470.0,1046.0 L407.0,1001.0 Z" fill="none" stroke="#3a3a3a" stroke-width="1.6" stroke-linejoin="round" stroke-linecap="round" />
<path d="M425.0,973.0 L479.0,1020.0" fill="none" stroke="#3a3a3a" stroke-width="1.2" stroke-linejoin="round" stroke-linecap="round" />
<path d="M300.0,738.0 L330.0,800.0" fill="none" stroke="#3a3a3a" stroke-width="1.4" stroke-linejoin="round" stroke-linecap="round" />
<path d="M357.0,887.0 L412.0,972.0" fill="none" stroke="#3a3a3a" stroke-width="1.4" stroke-linejoin="round" stroke-linecap="round" />
<path d="M346.0,884.0 L346.0,1003.0" fill="none" stroke="#808080" stroke-width="2.8" stroke-linejoin="round" stroke-linecap="round" />
<path d="M316.4,1032.5 L326.9,1025.5 L326.9,1061.5 M316.09999999999997,1061.5 L337.7,1061.5" fill="none" stroke="#262626" stroke-width="3.4" stroke-linejoin="miter"/>
<path d="M347.3,1032.5 L357.8,1025.5 L357.8,1061.5 M347.0,1061.5 L368.6,1061.5" fill="none" stroke="#262626" stroke-width="3.4" stroke-linejoin="miter"/>
<path d="M935.0,274.0 L1011.0,311.0 L998.0,344.0 L916.0,306.0 Z" fill="none" stroke="#3a3a3a" stroke-width="1.6" stroke-linejoin="round" stroke-linecap="round" />
<path d="M937.0,279.0 L1007.0,314.0" fill="none" stroke="#3a3a3a" stroke-width="1.2" stroke-linejoin="round" stroke-linecap="round" />
<path d="M1019.0,395.0 L1054.0,385.0 L1076.0,465.0 L1045.0,476.0 Z" fill="none" stroke="#3a3a3a" stroke-width="1.6" stroke-linejoin="round" stroke-linecap="round" />
<path d="M1048.0,387.0 L1070.0,467.0" fill="none" stroke="#3a3a3a" stroke-width="1.2" stroke-linejoin="round" stroke-linecap="round" />
<path d="M1076.0,572.0 L1136.0,620.0 L1124.0,650.0 L1061.0,607.0 Z" fill="none" stroke="#3a3a3a" stroke-width="1.6" stroke-linejoin="round" stroke-linecap="round" />
<path d="M1079.0,577.0 L1133.0,623.0" fill="none" stroke="#3a3a3a" stroke-width="1.2" stroke-linejoin="round" stroke-linecap="round" />
<path d="M1002.0,330.0 L1035.0,386.0" fill="none" stroke="#3a3a3a" stroke-width="1.4" stroke-linejoin="round" stroke-linecap="round" />
<path d="M1057.0,475.0 L1065.0,582.0" fill="none" stroke="#3a3a3a" stroke-width="1.4" stroke-linejoin="round" stroke-linecap="round" />
<path d="M1076.0,461.0 L1161.0,461.0" fill="none" stroke="#808080" stroke-width="2.8" stroke-linejoin="round" stroke-linecap="round" />
<path d="M1176.4,453.5 L1186.9,446.5 L1186.9,482.5 M1176.1000000000001,482.5 L1197.7,482.5" fill="none" stroke="#262626" stroke-width="3.4" stroke-linejoin="miter"/>
<path d="M1205.2,453.5 L1215.7,446.5 L1215.7,482.5 M1204.9,482.5 L1226.5,482.5" fill="none" stroke="#262626" stroke-width="3.4" stroke-linejoin="miter"/>
<path d="M1283.0,758.0 L1288.0,753.0 L1303.0,752.0 L1356.0,745.0 L1373.0,737.0 L1380.0,736.0 L1465.0,782.0 L1471.0,790.0 L1472.0,867.0 L1467.0,874.0 L1460.0,874.0 L1458.0,918.0 L1450.0,930.0 L1436.0,936.0 L1412.0,938.0 L1402.0,936.0 L1397.0,930.0 L1288.0,809.0 L1281.0,785.0 Z" fill="none" stroke="#3a3a3a" stroke-width="1.8" stroke-linejoin="round" stroke-linecap="round" />
<path d="M1289.0,755.0 L1391.0,797.5" fill="none" stroke="#3a3a3a" stroke-width="1.6" stroke-dasharray="7 2" stroke-linejoin="round" stroke-linecap="round" />
<path d="M1391.0,797.5 L1456.0,785.0" fill="none" stroke="#3a3a3a" stroke-width="1.5" stroke-dasharray="6 4" stroke-linejoin="round" stroke-linecap="round" />
<path d="M1284,765 L1359,801 Q1373,809 1379,825 L1393,822" fill="none" stroke="#3a3a3a" stroke-width="1.5" stroke-linejoin="round" stroke-linecap="round"/>
<path d="M1392.0,797.0 L1393.0,822.0" fill="none" stroke="#3a3a3a" stroke-width="1.4" stroke-linejoin="round" stroke-linecap="round" />
<path d="M1360.0,788.0 L1343.0,877.0" fill="none" stroke="#3a3a3a" stroke-width="1.4" stroke-linejoin="round" stroke-linecap="round" />
<path d="M1377.0,825.0 L1409.0,935.0" fill="none" stroke="#3a3a3a" stroke-width="1.4" stroke-linejoin="round" stroke-linecap="round" />
<path d="M1393.0,822.0 L1401.0,880.0" fill="none" stroke="#3a3a3a" stroke-width="1.4" stroke-linejoin="round" stroke-linecap="round" />
<path d="M1395.0,810.0 L1459.0,800.0" fill="none" stroke="#3a3a3a" stroke-width="1.4" stroke-dasharray="6 4" stroke-linejoin="round" stroke-linecap="round" />
<path d="M1378.0,739.0 L1460.0,783.0" fill="none" stroke="#555555" stroke-width="4.5" stroke-dasharray="1.6 2.6" stroke-linejoin="round" stroke-linecap="round" />
<path d="M1460.0,787.0 L1460.0,874.0" fill="none" stroke="#3a3a3a" stroke-width="1.6" stroke-linejoin="round" stroke-linecap="round" />
<path d="M1466.0,792.0 L1467.0,870.0" fill="none" stroke="#888888" stroke-width="2.5" stroke-linejoin="round" stroke-linecap="round" />
<path d="M1302,746 Q1299,732 1311,730 L1325,733 Q1337,737 1340,747 L1331,754 Q1309,759 1302,746 Z" fill="#ffffff" stroke="#3a3a3a" stroke-width="2.0" stroke-linejoin="round" stroke-linecap="round"/>
<path d="M1308,744 L1330,748" fill="none" stroke="#444444" stroke-width="3" stroke-linejoin="round" stroke-linecap="round"/>
<ellipse cx="1434" cy="907" rx="20" ry="27" fill="none" stroke="#3a3a3a" stroke-width="2.2" transform="rotate(-10 1434 907)"/>
<ellipse cx="1434" cy="907" rx="12" ry="16" fill="none" stroke="#3a3a3a" stroke-width="1.5" transform="rotate(-10 1434 907)"/>
<ellipse cx="1434" cy="907" rx="3" ry="3" fill="none" stroke="#3a3a3a" stroke-width="1.3"/>
<path d="M1394.0,628.0 L1394.0,740.0" fill="none" stroke="#808080" stroke-width="2.8" stroke-linejoin="round" stroke-linecap="round" />
<text x="1391" y="617" font-size="58" fill="#2a2a2a" text-anchor="middle" font-family="&apos;Liberation Sans&apos;, sans-serif" filter="url(#thin)">6</text>
<path d="M1009.0,786.0 L1287.0,804.0" fill="none" stroke="#555555" stroke-width="1.6" stroke-dasharray="16 5 4 5" stroke-linejoin="round" stroke-linecap="round" />
<path d="M1134,871 L1176,859 L1185,904 L1151,913 Z" fill="#ffffff" stroke="#333333" stroke-width="2.4" stroke-linejoin="round" stroke-linecap="round"/>
<path d="M1136,872 L1146,869 L1155,910 L1150,912 Z" fill="#777777" stroke="#3a3a3a" stroke-width="1.4" stroke-linejoin="round" stroke-linecap="round"/>
<path d="M1170,861 L1176,859 L1185,904 L1178,906 Z" fill="#777777" stroke="#3a3a3a" stroke-width="1.4" stroke-linejoin="round" stroke-linecap="round"/>
<path d="M1151,870 Q1161,864 1170,866 L1173,882 L1153,887 Z" fill="#bbbbbb" stroke="#3a3a3a" stroke-width="1.5" stroke-linejoin="round" stroke-linecap="round"/>
<ellipse cx="1162" cy="891" rx="6" ry="10" fill="#333333" stroke="#3a3a3a" stroke-width="1.8" transform="rotate(-10 1162 891)"/>
<path d="M1161.0,748.0 L1161.0,865.0" fill="none" stroke="#808080" stroke-width="2.8" stroke-linejoin="round" stroke-linecap="round" />
<text x="1159" y="736" font-size="58" fill="#2a2a2a" text-anchor="middle" font-family="&apos;Liberation Sans&apos;, sans-serif" filter="url(#thin)">5</text>
<ellipse cx="1265" cy="896" rx="9" ry="9" fill="#777777" stroke="#333333" stroke-width="4"/>
<path d="M1266.0,906.0 L1266.0,969.0" fill="none" stroke="#808080" stroke-width="2.8" stroke-linejoin="round" stroke-linecap="round" />
<text x="1265" y="1016" font-size="58" fill="#2a2a2a" text-anchor="middle" font-family="&apos;Liberation Sans&apos;, sans-serif" filter="url(#thin)">9</text>
<ellipse cx="1517" cy="912" rx="15" ry="18" fill="none" stroke="#3a3a3a" stroke-width="1.7"/>
<ellipse cx="1517" cy="912" rx="2" ry="2" fill="none" stroke="#3a3a3a" stroke-width="1.3"/>
<path d="M1514.0,780.0 L1514.0,894.0" fill="none" stroke="#808080" stroke-width="2.8" stroke-linejoin="round" stroke-linecap="round" />
<text x="1512" y="769" font-size="58" fill="#2a2a2a" text-anchor="middle" font-family="&apos;Liberation Sans&apos;, sans-serif" filter="url(#thin)">7</text>
<path d="M1590,912 L1600,910 L1600,924 L1590,926 Z" fill="#333333" stroke="#3a3a3a" stroke-width="1.5" stroke-linejoin="round" stroke-linecap="round"/>
<path d="M1600,915 L1625,912 M1605,910 L1608,922 M1612,909 L1615,921 M1619,908 L1622,919 M1625,912 L1637,908" fill="none" stroke="#3a3a3a" stroke-width="1.6" stroke-linejoin="round" stroke-linecap="round"/>
<path d="M1607.0,790.0 L1607.0,906.0" fill="none" stroke="#808080" stroke-width="2.8" stroke-linejoin="round" stroke-linecap="round" />
<text x="1605" y="777.5" font-size="58" fill="#2a2a2a" text-anchor="middle" font-family="&apos;Liberation Sans&apos;, sans-serif" filter="url(#thin)">8</text>
<path d="M1046.0,883.0 L1136.0,888.0" fill="none" stroke="#555555" stroke-width="1.6" stroke-dasharray="16 5 4 5" stroke-linejoin="round" stroke-linecap="round" />
<path d="M1185.0,892.0 L1255.0,895.0" fill="none" stroke="#555555" stroke-width="1.6" stroke-dasharray="16 5 4 5" stroke-linejoin="round" stroke-linecap="round" />
<path d="M1275.0,897.0 L1361.0,900.0" fill="none" stroke="#555555" stroke-width="1.6" stroke-dasharray="16 5 4 5" stroke-linejoin="round" stroke-linecap="round" />
<path d="M1458.0,908.0 L1501.0,911.0" fill="none" stroke="#555555" stroke-width="1.6" stroke-dasharray="16 5 4 5" stroke-linejoin="round" stroke-linecap="round" />
<path d="M1533.0,913.0 L1588.0,915.0" fill="none" stroke="#555555" stroke-width="1.6" stroke-dasharray="16 5 4 5" stroke-linejoin="round" stroke-linecap="round" />
</svg></body></html>
